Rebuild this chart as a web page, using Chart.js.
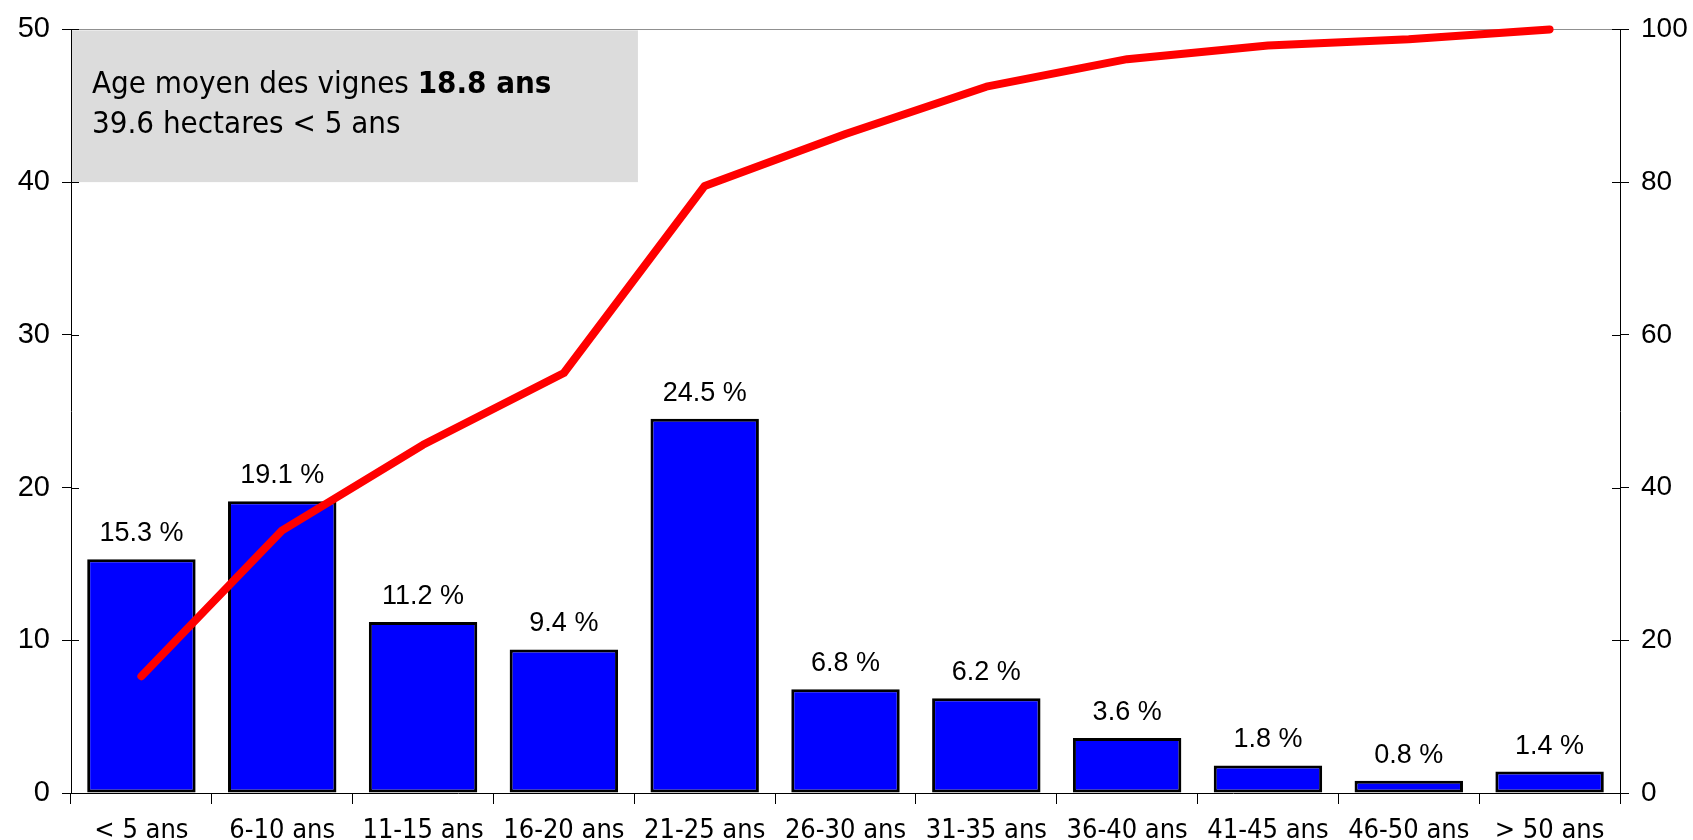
<!DOCTYPE html>
<html>
<head>
<meta charset="utf-8">
<script src="https://cdn.jsdelivr.net/npm/chart.js@4"></script>
<style>
  body { margin: 0; background: #fff; }
  #wrap { width: 1693px; height: 840px; }
</style>
</head>
<body>
<div id="wrap"><canvas id="ageChart" width="1693" height="840"></canvas></div>
<script>
const categories = ["< 5 ans", "6-10 ans", "11-15 ans", "16-20 ans", "21-25 ans", "26-30 ans", "31-35 ans", "36-40 ans", "41-45 ans", "46-50 ans", "> 50 ans"];
const shares = [15.3, 19.1, 11.2, 9.4, 24.5, 6.8, 6.2, 3.6, 1.8, 0.8, 1.4];
const cumulative = [15.3, 34.4, 45.6, 55.0, 79.5, 86.3, 92.5, 96.1, 97.9, 98.7, 100];
const leftRange = [0, 50, 10];
const rightRange = [0, 100, 20];
const boxLines = [["Age moyen des vignes ", "18.8 ans"], ["39.6 hectares < 5 ans", ""]];

const numFont = "Liberation Sans, Arial, sans-serif";
const narrowFont = "'Liberation Sans Narrow', 'DejaVu Sans Condensed', sans-serif";

// grey info box in the top-left corner
const infoBox = {
  id: "infoBox",
  beforeDatasetsDraw(chart) {
    const c = chart.ctx, a = chart.chartArea, y = chart.scales.y;
    const top = y.getPixelForValue(50), bottom = y.getPixelForValue(40);
    const right = a.left + a.width * 0.366;
    c.save();
    c.fillStyle = "#dcdcdc";
    c.fillRect(a.left + 1, top + 1, right - a.left - 1, bottom - top - 1);
    c.fillStyle = "#000";
    c.textBaseline = "middle";
    boxLines.forEach((ln, i) => {
      const ty = top + 56 + i * 40;
      let tx = a.left + 21;
      c.font = "31px " + narrowFont;
      c.fillText(ln[0], tx, ty);
      tx += c.measureText(ln[0]).width;
      if (ln[1]) {
        c.font = "bold 31px " + narrowFont;
        c.fillText(ln[1], tx, ty);
      }
    });
    c.restore();
  }
};

// value labels above bars
const barLabels = {
  id: "barLabels",
  afterDatasetsDraw(chart) {
    const c = chart.ctx;
    const meta = chart.getDatasetMeta(0);
    c.save();
    c.font = "27px " + numFont;
    c.fillStyle = "#000";
    c.textAlign = "center";
    c.textBaseline = "bottom";
    meta.data.forEach((bar, i) => {
      c.fillText(shares[i].toFixed(1) + " %", bar.x, bar.y - 12);
    });
    c.restore();
  }
};

// small tick marks inside the plot on both y axes
const innerTicks = {
  id: "innerTicks",
  afterDraw(chart) {
    const c = chart.ctx;
    c.save();
    c.strokeStyle = "#000";
    c.lineWidth = 1;
    ["y", "y1"].forEach(id => {
      const s = chart.scales[id];
      const x0 = id === "y" ? s.right : s.left;
      const dir = id === "y" ? 1 : -1;
      s.ticks.forEach((t, i) => {
        const py = Math.round(s.getPixelForTick(i)) + 0.5;
        c.beginPath();
        c.moveTo(x0, py);
        c.lineTo(x0 + dir * 8, py);
        c.stroke();
      });
    });
    c.restore();
  }
};

new Chart(document.getElementById("ageChart"), {
  data: {
    labels: categories,
    datasets: [
      {
        type: "bar",
        data: shares,
        backgroundColor: "#0000ff",
        borderColor: "#000",
        borderWidth: 3,
        borderSkipped: false,
        categoryPercentage: 1,
        barPercentage: 0.77,
        yAxisID: "y",
        order: 2
      },
      {
        type: "line",
        data: cumulative,
        borderColor: "#ff0000",
        borderWidth: 8,
        borderCapStyle: "round",
        borderJoinStyle: "round",
        pointRadius: 0,
        tension: 0,
        clip: false,
        yAxisID: "y1",
        order: 1
      }
    ]
  },
  options: {
    responsive: false,
    animation: false,
    layout: { padding: { top: 26, left: 0, right: 0, bottom: 0 } },
    plugins: { legend: { display: false }, tooltip: { enabled: false } },
    scales: {
      x: {
        grid: { offset: true, drawOnChartArea: false, tickLength: 11, color: "#000" },
        border: { color: "#000" },
        ticks: { font: { family: narrowFont, size: 27 }, color: "#000", padding: 11, maxRotation: 0 },
        afterFit(s) { s.height = 47; }
      },
      y: {
        position: "left",
        min: leftRange[0], max: leftRange[1],
        ticks: { stepSize: leftRange[2], font: { family: numFont, size: 29 }, color: "#000", padding: 12 },
        grid: {
          color: ctx => ctx.tick && ctx.tick.value === leftRange[1] ? "#909090" : "rgba(0,0,0,0)",
          tickColor: "#000",
          tickLength: 9
        },
        border: { color: "#000" },
        afterFit(s) { s.width = 71; }
      },
      y1: {
        position: "right",
        min: rightRange[0], max: rightRange[1],
        ticks: { stepSize: rightRange[2], font: { family: numFont, size: 28 }, color: "#000", padding: 12 },
        grid: { drawOnChartArea: false, color: "#000", tickLength: 9 },
        border: { color: "#000" },
        afterFit(s) { s.width = 73; }
      }
    }
  },
  plugins: [infoBox, barLabels, innerTicks]
});
</script>
</body>
</html>
